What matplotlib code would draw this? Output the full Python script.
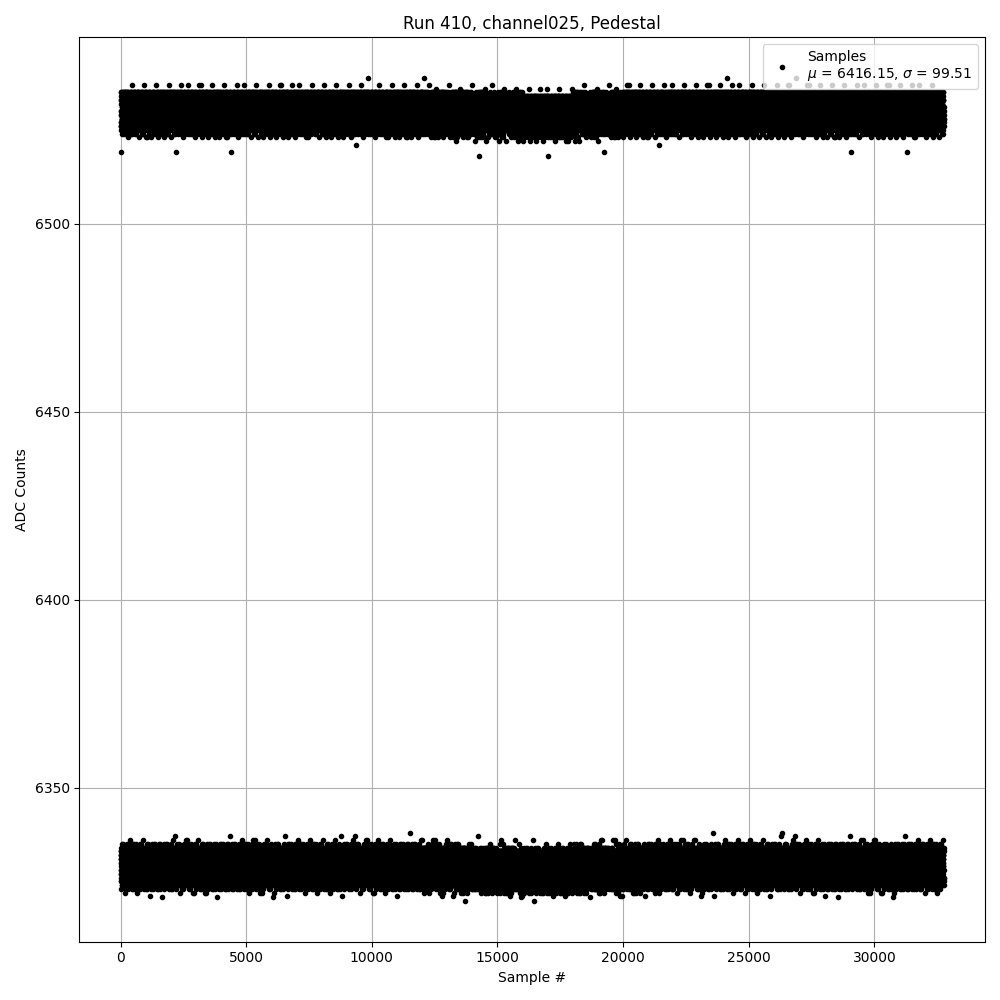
import numpy as np
import matplotlib
matplotlib.use("Agg")
import matplotlib.pyplot as plt

# pedestal run: samples jump between two ADC levels
n_samples = 32768
upper_frac = 0.431

# histogram of ADC values in each band (counts)
upper_levels = [6519, 6521, 6523, 6524, 6525, 6526, 6527, 6528, 6529, 6530,
                6531, 6532, 6533, 6534, 6535, 6537, 6538.7]
upper_counts = [6, 4, 120, 300, 450, 1300, 1400, 1450, 1450, 1450,
                1450, 1450, 1400, 1350, 1300, 80, 5]

lower_levels = [6320.9, 6321, 6322, 6323, 6324, 6325, 6326, 6327, 6328, 6329,
                6330, 6331, 6332, 6333, 6334, 6335, 6336, 6337, 6338]
lower_counts = [8, 12, 50, 300, 800, 1700, 1800, 1850, 1850, 1850,
                1850, 1850, 1850, 1800, 1700, 300, 60, 15, 5]

# slow drift of the bands, per 2000-sample block (ADC counts)
block_size = 2000
upper_drift = [0, 0, 0, 0, 0, 0, -0.2, -0.7, -1.0, -0.5, 0, 0, 0, 0, 0, 0, 0]
lower_drift = [0, 0, 0, 0, 0, 0, -0.3, -0.8, -1.0, -0.6, -0.2, 0, 0, 0, 0, 0, 0]

title = "Run 410, channel025, Pedestal"
label = "Samples\n$\\mu$ = 6416.15, $\\sigma$ = 99.51"


def pick(levels, counts, u):
    cdf = np.cumsum(counts) / np.sum(counts)
    return np.asarray(levels, dtype=float)[np.searchsorted(cdf, u)]


x = np.arange(n_samples)
band_u = (x * 0.6180339887) % 1.0
level_u = (x * 0.4142135623 + 0.5 * band_u) % 1.0
dither = (x * 0.7548776662) % 1.0
is_upper = band_u < upper_frac

y = np.where(is_upper,
             pick(upper_levels, upper_counts, level_u),
             pick(lower_levels, lower_counts, level_u))

block = x // block_size
shift = np.where(is_upper, np.take(upper_drift, block), np.take(lower_drift, block))
y += np.floor(shift + dither)

fig, ax = plt.subplots(figsize=(10, 10))
ax.plot(x, y, '.', color='black', label=label)
ax.set_title(title)
ax.set_xlabel("Sample #")
ax.set_ylabel("ADC Counts")
ax.grid(True)
ax.legend(loc='upper right')
plt.tight_layout()
plt.savefig("out.png", dpi=100)
